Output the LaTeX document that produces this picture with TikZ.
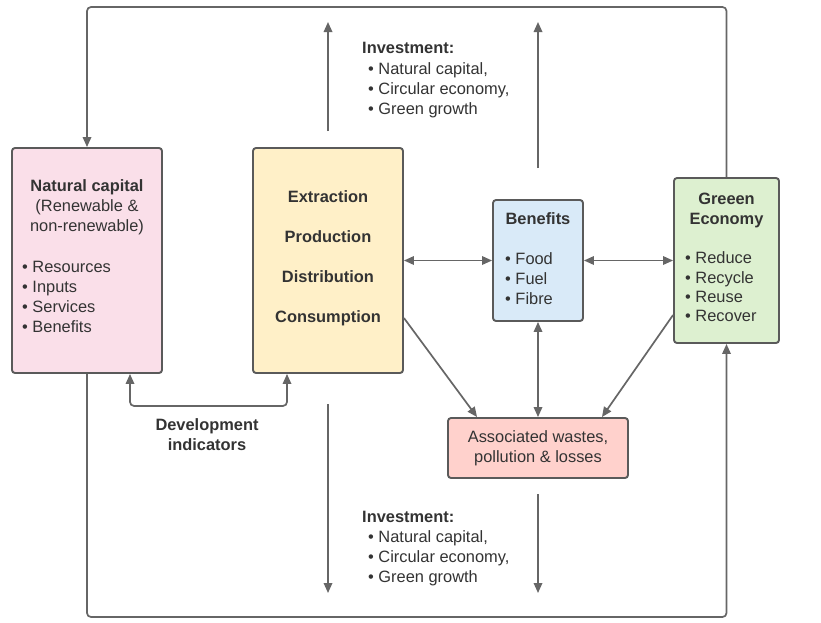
\documentclass[tikz,border=0pt]{standalone}
\usepackage{fontspec}
\setmainfont{Liberation Sans}
\usetikzlibrary{arrows.meta,calc}
\definecolor{txtc}{HTML}{333333}
\definecolor{linec}{HTML}{666666}
\definecolor{boxline}{HTML}{5A5A5A}
\definecolor{ncfill}{HTML}{FADFE9}
\definecolor{epfill}{HTML}{FFF0C8}
\definecolor{benfill}{HTML}{D9EAF8}
\definecolor{gefill}{HTML}{DDF0D0}
\definecolor{wfill}{HTML}{FFD1CC}
\begin{document}
\begin{tikzpicture}[x=1pt,y=-1pt,
 box/.style={draw=boxline, line width=1.9pt, rounded corners=3pt, inner sep=0pt},
 txt/.style={text=txtc, font=\fontsize{16.4}{20}\selectfont, inner sep=0pt, text height=11.7pt, text depth=0pt},
 txtb/.style={txt, font=\fontsize{16.4}{20}\selectfont\bfseries},
 conn/.style={draw=linec, line width=1.7pt, -{Triangle[length=10pt,width=8.5pt]}},
 dconn/.style={draw=linec, line width=1.7pt, {Triangle[length=10pt,width=8.5pt]}-{Triangle[length=10pt,width=8.5pt]}},
]
\useasboundingbox[fill=white] (0,0) rectangle (821,622);

% boxes
\node[box, fill=ncfill, minimum width=150pt, minimum height=225pt] (nc) at (87,260.5) {};
\node[box, fill=epfill, minimum width=150pt, minimum height=225pt] (epdc) at (328,260.5) {};
\node[box, fill=benfill, minimum width=90pt, minimum height=121pt] (ben) at (538,260.5) {};
\node[box, fill=gefill, minimum width=105pt, minimum height=165pt] (ge) at (726.5,260.5) {};
\node[box, fill=wfill, minimum width=180pt, minimum height=60pt] (waste) at (538,448) {};

% texts in boxes (multi-line nodes are placed by their last line)
\node[txt, align=center] (nctitle) at (87,226) {\textbf{Natural capital}\\(Renewable \&\\non-renewable)};
\node[txt, align=left, anchor=west] (nclist) at (22,327) {• Resources\\• Inputs\\• Services\\• Benefits};

\node[txtb] (ext1) at (328,197) {Extraction};
\node[txtb] (ext2) at (328,237) {Production};
\node[txtb] (ext3) at (328,277) {Distribution};
\node[txtb] (ext4) at (328,317) {Consumption};

\node[txtb] (bentitle) at (538,219) {Benefits};
\node[txt, align=left, anchor=west] (benlist) at (505,299) {• Food\\• Fuel\\• Fibre};

\node[txtb, align=center] (getitle) at (726.5,219) {Greeen\\Economy};
\node[txt, font=\fontsize{16.4}{19.3}\selectfont, align=left, anchor=west] (gelist) at (685,316) {• Reduce\\• Recycle\\• Reuse\\• Recover};

\node[txt, align=center] (wtext) at (538,457) {Associated wastes,\\pollution \& losses};

% free texts
\node[txtb, anchor=west] (invtoph) at (362,48) {Investment:};
\node[txt, align=left, anchor=west] (invtopl) at (368,109) {• Natural capital,\\• Circular economy,\\• Green growth};
\node[txtb, anchor=west] (invboth) at (362,517) {Investment:};
\node[txt, align=left, anchor=west] (invbotl) at (368,577) {• Natural capital,\\• Circular economy,\\• Green growth};
\node[txtb, align=center] (dev) at (207,445) {Development\\indicators};

% coordinates
\coordinate (topy) at (0,7);
\coordinate (boty) at (0,617);
\coordinate (up1s) at (328,131);
\coordinate (up1e) at (328,22);
\coordinate (up2s) at (538,168);
\coordinate (up2e) at (538,22);
\coordinate (dn1s) at (328,404);
\coordinate (dn1e) at (328,593);
\coordinate (dn2s) at (538,494);
\coordinate (dn2e) at (538,593);

% connectors
\draw[conn, rounded corners=4pt] (ge.north) -- (ge.north |- topy) -- (nc.north |- topy) -- (nc.north);
\draw[conn, rounded corners=4pt] (nc.south) -- (nc.south |- boty) -- (ge.south |- boty) -- (ge.south);
\draw[dconn, rounded corners=4pt] ([xshift=43pt]nc.south) -- ++(0,32) -| ([xshift=-41pt]epdc.south);

\draw[conn] (up1s) -- (up1e);
\draw[conn] (up2s) -- (up2e);
\draw[conn] (dn1s) -- (dn1e);
\draw[conn] (dn2s) -- (dn2e);

\draw[dconn] (epdc.east) -- (ben.west);
\draw[dconn] (ben.east) -- (ge.west);
\draw[dconn] (ben.south) -- (waste.north);
\draw[conn] ($(epdc.east)+(0,57.5)$) -- ($(waste.north west)+(30,0)$);
\draw[conn] ($(ge.west)+(0,54.5)$) -- ($(waste.north east)+(-27,0)$);
\end{tikzpicture}
\end{document}
